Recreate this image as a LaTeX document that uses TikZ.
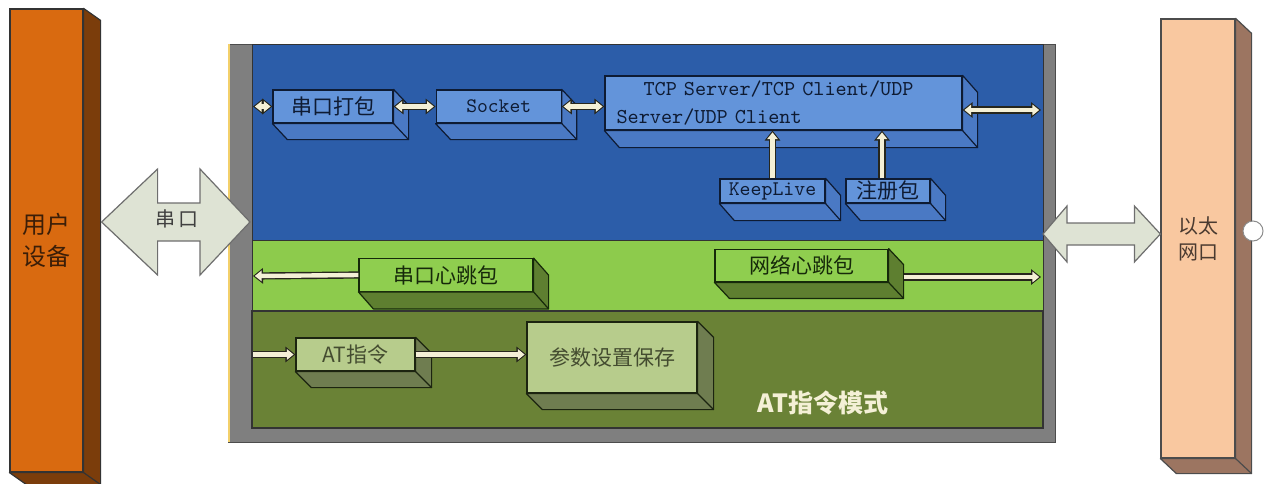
\documentclass[tikz,border=0pt]{standalone}
\usepackage{fontspec}
\setmainfont{Noto Sans CJK SC}
\usetikzlibrary{arrows.meta,calc,positioning}

\definecolor{userOr}{HTML}{D96A10}
\definecolor{userSide}{HTML}{7B3D0B}
\definecolor{userInk}{HTML}{3B1E08}
\definecolor{ethFront}{HTML}{F9C8A0}
\definecolor{ethSide}{HTML}{9C7561}
\definecolor{ethInk}{HTML}{4A3A30}
\definecolor{frameGray}{HTML}{7F7F7F}
\definecolor{edgeYel}{HTML}{F3D06A}
\definecolor{blueBand}{HTML}{2C5DA9}
\definecolor{lightBand}{HTML}{8DCB4C}
\definecolor{oliveBand}{HTML}{6A8236}
\definecolor{boxBlue}{HTML}{6394DA}
\definecolor{sideBlue}{HTML}{4A79C4}
\definecolor{inkBlue}{HTML}{0E1B33}
\definecolor{boxGreen}{HTML}{8FCE4F}
\definecolor{sideGreen}{HTML}{5E7F30}
\definecolor{inkGreen}{HTML}{16290A}
\definecolor{boxSage}{HTML}{B7CC8C}
\definecolor{sideSage}{HTML}{6F7D50}
\definecolor{inkSage}{HTML}{1C2410}
\definecolor{textSage}{HTML}{444C30}
\definecolor{bigFill}{HTML}{DEE3D4}
\definecolor{bigInk}{HTML}{6E6E6E}
\definecolor{cream}{HTML}{F4F0D6}
\definecolor{pipeInk}{HTML}{26261C}

% extrusion of a box: node, side colour, line colour, depth
\newcommand{\slab}[4]{%
  \draw[fill=#2, draw=#3, line width=.6pt, line join=round]
    (#1.south west) -- ++#4 -- ($(#1.south east)+#4$) -- ($(#1.north east)+#4$)
    -- (#1.north east) -- (#1.south east) -- cycle;
  \draw[#3, line width=.6pt] (#1.south east) -- ++#4;}

\begin{document}
\begin{tikzpicture}[x=0.5pt,y=-0.5pt,
    bluebox/.style={draw=inkBlue, fill=boxBlue, line width=.6pt, inner sep=0pt,
        text=inkBlue, minimum height=16.5pt, font=\fontsize{10.5}{12}\selectfont},
    greenbox/.style={draw=inkGreen, fill=boxGreen, line width=.6pt, inner sep=0pt,
        text=inkGreen, minimum height=16.3pt, font=\fontsize{10.5}{12}\selectfont},
    sagebox/.style={draw=inkSage, fill=boxSage, line width=.6pt, inner sep=0pt,
        text=textSage, font=\fontsize{10.5}{12}\selectfont},
    tower/.style={line width=.6pt, inner sep=0pt, font=\fontsize{12}{16}\selectfont, align=center},
    bigarrow/.style={fill=bigFill, draw=bigInk, line width=.6pt, line join=miter},
    pipe/.style={draw=cream, line width=2.2pt, -{Triangle[length=3.4pt,width=5.2pt]},
        shorten >=0.9pt,
        preaction={draw=pipeInk, line width=3.6pt, -{Triangle[length=5pt,width=7.6pt]},
        shorten >=0pt}},
    pipe2/.style={draw=cream, line width=2.2pt,
        {Triangle[length=3.4pt,width=5.2pt]}-{Triangle[length=3.4pt,width=5.2pt]},
        shorten >=0.9pt, shorten <=0.9pt,
        preaction={draw=pipeInk, line width=3.6pt,
        {Triangle[length=5pt,width=7.6pt]}-{Triangle[length=5pt,width=7.6pt]},
        shorten >=0pt, shorten <=0pt}}]

    \useasboundingbox (0,0) rectangle (1264,483);

    % module frame and its three bands
    \draw[fill=frameGray, draw=black!70, line width=.5pt] (228,44) rectangle (1055,442);
    \draw[edgeYel, line width=1pt] (228.5,44) -- (228.5,442);
    \draw[fill=blueBand, draw=black!80, line width=.5pt] (252,44) rectangle (1043,240);
    \draw[fill=lightBand, draw=black!80, line width=.5pt] (252,240) rectangle (1043,311);
    \draw[fill=oliveBand, draw=black!80, line width=.8pt] (252,311) rectangle (1043,428);

    % side devices
    \node[tower, draw=black!80, fill=userOr, text=userInk, minimum width=36.5pt,
        minimum height=231.5pt] (user) at (46.5,240.5) {用户\\设备};
    \slab{user}{userSide}{black!80}{(17,12)}
    \node[tower, draw=black!70, fill=ethFront, text=ethInk, minimum width=37pt,
        minimum height=219.5pt, font=\fontsize{10}{13}\selectfont] (eth) at (1198,238.5) {以太\\网口};
    \slab{eth}{ethSide}{black!70}{(16,15)}
    \node[circle, draw=black!45, fill=white, line width=.5pt, minimum size=10pt,
        inner sep=0pt] (port) at (1253,231) {};

    % network path
    \node[bluebox, minimum width=60pt] (dabao) at (333,106.5) {串口打包};
    \node[bluebox, minimum width=62.5pt, right=21pt of dabao,
        font=\ttfamily\fontsize{10.3}{12}\selectfont] (socket) {Socket};
    \node[bluebox, minimum width=178.5pt, minimum height=27pt, text width=167pt, align=left,
        font=\ttfamily\fontsize{10.6}{14}\selectfont] (tcp) at (783.5,103)
        {\hspace*{13.5pt}TCP Server/TCP Client/UDP\\Server/UDP Client};
    \node[bluebox, minimum width=52.5pt, minimum height=12pt,
        font=\ttfamily\fontsize{10.4}{12}\selectfont] (keep) at (772.5,191) {KeepLive};
    \node[bluebox, minimum width=42pt, minimum height=12pt] (zhuce) at (888,191) {注册包};
    \slab{dabao}{sideBlue}{inkBlue}{(15,16)}
    \slab{socket}{sideBlue}{inkBlue}{(15,16)}
    \slab{tcp}{sideBlue}{inkBlue}{(15,17)}
    \slab{keep}{sideBlue}{inkBlue}{(15,17)}
    \slab{zhuce}{sideBlue}{inkBlue}{(15,17)}

    % heartbeat band
    \node[greenbox, minimum width=87pt] (chuanxt) at (446,275) {串口心跳包};
    \node[greenbox, minimum width=86.5pt] (wangxt) at (801.5,265.5) {网络心跳包};
    \slab{chuanxt}{sideGreen}{inkGreen}{(15,17)}
    \slab{wangxt}{sideGreen}{inkGreen}{(15,16)}

    % AT command band
    \node[sagebox, minimum width=59.5pt, minimum height=16.5pt] (at) at (355.5,354.5) {AT指令};
    \node[sagebox, minimum width=85pt, minimum height=35.5pt] (save) at (612,357.5) {参数设置保存};
    \slab{at}{sideSage}{inkSage}{(16,16)}
    \slab{save}{sideSage}{inkSage}{(16,16)}
    \node[text=cream, font=\bfseries\fontsize{12.5}{14}\selectfont] (atmode) at (823,403) {AT指令模式};

    % big connectors
    \coordinate (uL) at ($(user.east)+(18,-18.5)$);
    \coordinate (uR) at (250,222);
    \draw[bigarrow] (uL) -- ++(56,-53) -- ++(0,34) -- ($(uR)+(-50,-19)$) -- ++(0,-34)
        -- (uR) -- ++(-50,53) -- ++(0,-34) -- ($(uL)+(56,19)$) -- ++(0,34) -- cycle;
    \node[font=\fontsize{10}{12}\selectfont, text=black!75] (chuankou) at ($(uL)!0.5!(uR)+(1,-3)$) {串\,口};
    \coordinate (eL) at (1043,234);
    \coordinate (eR) at ($(eth.west)+(0,-4.5)$);
    \draw[bigarrow] (eL) -- ++(24,-28) -- ++(0,17) -- ($(eR)+(-26,-11)$) -- ++(0,-17)
        -- (eR) -- ++(-26,28) -- ++(0,-17) -- ($(eL)+(24,11)$) -- ++(0,17) -- cycle;

    % small pipes
    \coordinate (inA) at (253,106.5);
    \coordinate (outA) at (1041,110);
    \coordinate (inB) at (253,276);
    \coordinate (outB) at (1041,277);
    \coordinate (inC) at (253,354.5);

    \path (inA) edge[pipe2] (dabao.west);
    \path (dabao.east) edge[pipe2] (socket.west);
    \path (socket.east) edge[pipe2] (socket.east -| tcp.west);
    \path ($(tcp.east)+(0,7)$) edge[pipe2] (outA);
    \path (keep.north) edge[pipe] (keep.north |- tcp.south);
    \path ([xshift=-3pt]zhuce.north) edge[pipe] ([xshift=-3pt]zhuce.north |- tcp.south);
    \path (chuanxt.west) edge[pipe] (inB);
    \path (outB -| wangxt.east) ++(15,0) edge[pipe] (outB);
    \path (inC) edge[pipe] (at.west);
    \path (at.east) edge[pipe] (at.east -| save.west);

\end{tikzpicture}
\end{document}
